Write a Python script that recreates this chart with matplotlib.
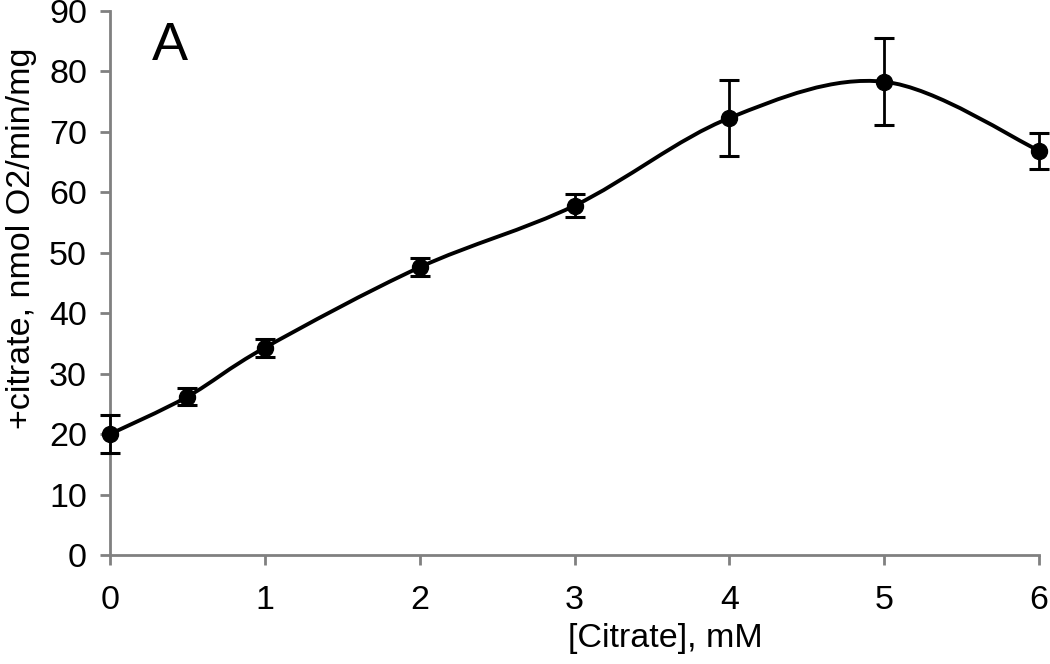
import numpy as np
import matplotlib
matplotlib.use("Agg")
import matplotlib.pyplot as plt
from matplotlib.path import Path
import matplotlib.patches as mpatches

plt.rcParams['font.family'] = ['Liberation Sans', 'DejaVu Sans']

# data
citrate_mM = [0, 0.5, 1, 2, 3, 4, 5, 6]
rate = [20.0, 26.2, 34.3, 47.6, 57.8, 72.3, 78.3, 66.9]
rate_err = [3.2, 1.4, 1.5, 1.5, 1.9, 6.3, 7.2, 3.0]
x_ticks = [0, 1, 2, 3, 4, 5, 6]
y_ticks = [0, 10, 20, 30, 40, 50, 60, 70, 80, 90]


def smooth_path(xs, ys):
    """Excel-style smoothed line as cubic Bezier segments"""
    pts = np.column_stack([xs, ys]).astype(float)
    n = len(pts)
    verts = [pts[0]]
    codes = [Path.MOVETO]
    for i in range(n - 1):
        p0 = pts[max(i - 1, 0)]
        p1 = pts[i]
        p2 = pts[i + 1]
        p3 = pts[min(i + 2, n - 1)]
        c1 = p1 + (p2 - p0) / 6.0
        c2 = p2 - (p3 - p1) / 6.0
        verts += [c1, c2, p2]
        codes += [Path.CURVE4] * 3
    return Path(verts, codes)


fig = plt.figure(figsize=(10.5, 6.64), dpi=100)
ax = fig.add_axes([0.1048, 0.1642, 0.8848, 0.8192])

curve = mpatches.PathPatch(smooth_path(citrate_mM, rate), facecolor='none',
                           edgecolor='black', linewidth=2.8, zorder=3)
ax.add_patch(curve)
ax.errorbar(citrate_mM, rate, yerr=rate_err, fmt='o', color='black', markersize=11.5,
            ecolor='black', elinewidth=2.0, capsize=7, capthick=2.2, zorder=4,
            clip_on=False)

ax.set_xlim(0, 6)
ax.set_ylim(0, 90)
ax.set_xticks(x_ticks)
ax.set_yticks(y_ticks)
ax.tick_params(axis='both', labelsize=24.5, length=7.5, width=2, color='#808080',
               direction='out')
ax.tick_params(axis='x', pad=14)
ax.tick_params(axis='y', pad=9)

for s in ['top', 'right']:
    ax.spines[s].set_visible(False)
for s in ['left', 'bottom']:
    ax.spines[s].set_color('#808080')
    ax.spines[s].set_linewidth(2)

fig.text(665 / 1050, 1 - 638 / 664, '[Citrate], mM', fontsize=24.5,
         ha='center', va='center')
fig.text(22 / 1050, 1 - 238 / 664, '+citrate, nmol O2/min/mg', fontsize=24.5,
         rotation=90, ha='center', va='center')
ax.text(0.045, 0.935, 'A', transform=ax.transAxes, fontsize=39,
        ha='left', va='center')

fig.savefig('out.png', dpi=100)
